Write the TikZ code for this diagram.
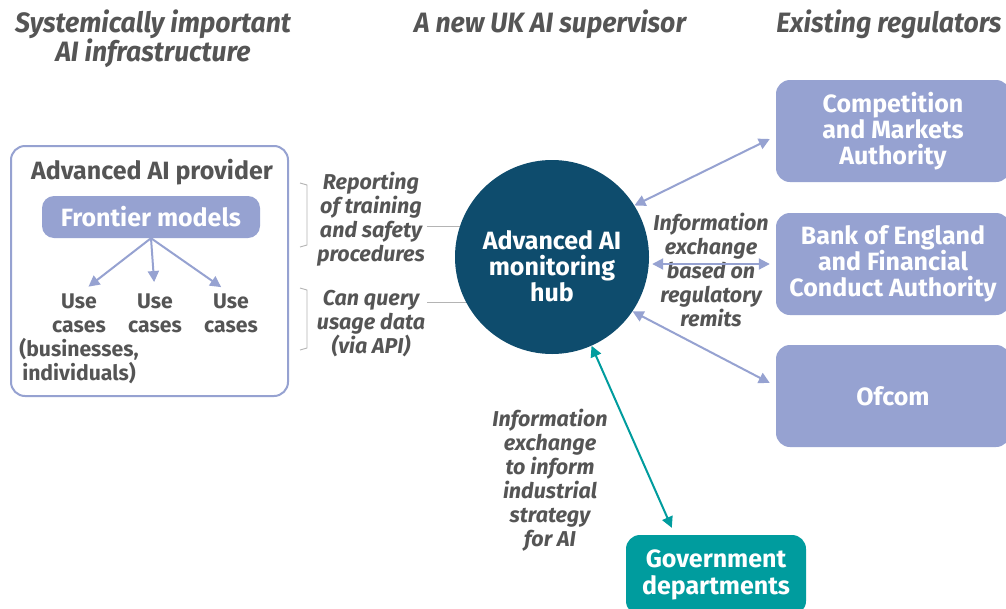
\documentclass[tikz,border=0pt]{standalone}
\usepackage{fontspec}
\setmainfont{Fira Sans}
\newfontfamily\headfont[FakeStretch=0.95]{Fira Sans}
\usetikzlibrary{calc,arrows.meta,backgrounds}
\definecolor{peri}{HTML}{96A2D1}
\definecolor{hubblue}{HTML}{0E4C6D}
\definecolor{govteal}{HTML}{009C9E}
\definecolor{txtgray}{HTML}{555555}
\definecolor{linegray}{HTML}{B4B4B4}
\begin{document}
\begin{tikzpicture}[x=1pt,y=-1pt,
  head/.style={font=\headfont\bfseries\itshape\fontsize{28}{29}\selectfont, text=txtgray, align=center},
  lbl/.style={font=\bfseries\itshape\fontsize{21.5}{24}\selectfont, text=txtgray, align=center, inner sep=2pt},
  usecase/.style={font=\bfseries\fontsize{21.2}{24}\selectfont, text=txtgray, align=center, inner sep=0pt, anchor=north},
  regbox/.style={fill=peri, rounded corners=14pt, text=white, font=\bfseries\fontsize{25}{26}\selectfont,
    align=center, minimum width=234pt, minimum height=102pt, inner sep=0pt},
  arr/.style={draw=peri, line width=2pt, -{Triangle[length=11pt,width=11pt]}},
  dblarr/.style={draw=peri, line width=2pt, {Triangle[length=11pt,width=11pt]}-{Triangle[length=11pt,width=11pt]}},
  tealarr/.style={draw=govteal, line width=2pt, {Triangle[length=11pt,width=11pt]}-{Triangle[length=11pt,width=11pt]}},
  thinline/.style={draw=linegray, line width=0.9pt},
]
\useasboundingbox (0,0) rectangle (1006,608);
\begin{scope}[on background layer]
  \fill[white] (0,0) rectangle (1006,608);
\end{scope}
\clip (0,0) rectangle (1006,608);

% column headings
\node[head] (h1) at (153,39) {Systemically important\\AI infrastructure};
\node[head] (h2) at (550,24) {A new UK AI supervisor};
\node[head] (h3) at (889,24) {Existing regulators};

% provider panel
\node[draw=peri, line width=2pt, rounded corners=14pt, minimum width=277pt, minimum height=250pt] (prov) at (149.5,271) {};
\node[font=\bfseries\fontsize{25}{26}\selectfont, text=txtgray] (provt) at (152,172) {Advanced AI provider};
\node[fill=peri, rounded corners=12pt, minimum width=218pt, minimum height=42pt, text=white,
      font=\bfseries\fontsize{25}{26}\selectfont] (fm) at (151,217) {Frontier models};
\node[usecase] (u1) at (79,294) {Use\\cases\\(businesses,\\individuals)};
\node[usecase] (u2) at (155,294) {Use\\cases};
\node[usecase] (u3) at (231,294) {Use\\cases};
\draw[arr, shorten >=12pt] (fm.south) -- (u1.north);
\draw[arr, shorten >=12pt] (fm.south) -- (u2.north);
\draw[arr, shorten >=12pt] (fm.south) -- (u3.north);

% monitoring hub
\node[circle, fill=hubblue, minimum size=194pt, inner sep=0pt] (hub) at (552,257) {};
\node[text=white, align=center, font=\bfseries\fontsize{25}{26}\selectfont] (hubtext) at (552,266)
  {Advanced AI\\monitoring\\hub};

% reporting channels
\node[lbl] (rep) at (371,219) {Reporting\\of training\\and safety\\procedures};
\node[lbl] (qry) at (371,324) {Can query\\usage data\\(via API)};
\draw[thinline] (300,183) -- (307,185) -- (307,245) -- (300,247);
\draw[thinline] (300,288) -- (307,290) -- (307,348) -- (300,350);
\begin{scope}[on background layer]
  \draw[thinline] ($(rep.east)+(0,7)$) -- ($(rep.east -| hub.center)+(0,7)$);
  \draw[thinline] ($(qry.east)+(0,-22)$) -- ($(qry.east -| hub.center)+(0,-22)$);
\end{scope}

% existing regulators
\node[regbox] (cma) at (893,131) {Competition\\and Markets\\Authority};
\node[regbox] (boe) at (893,264) {Bank of England\\and Financial\\Conduct Authority};
\node[regbox] (ofc) at (893,396) {Ofcom};
\node[lbl] (ix1) at (711,270) {Information\\exchange\\based on\\regulatory\\remits};
\draw[dblarr] (hub.32) -- ($(cma.west)+(-6,8)$);
\draw[dblarr, shorten <=3pt, shorten >=6pt] (hub.east |- boe.west) -- (boe.west);
\draw[dblarr] (hub.-34) -- ($(ofc.west)+(-6,-13)$);

% government
\node[fill=govteal, rounded corners=14pt, minimum width=180pt, minimum height=80pt, text=white, align=center,
      font=\bfseries\fontsize{25}{27}\selectfont] (gov) at (716,575) {Government\\departments};
\node[lbl] (ix2) at (550,480) {Information\\exchange\\to inform\\industrial\\strategy\\for AI};
\draw[tealarr] (hub.-66) -- ($(gov.north west)+(46,-7)$);
\end{tikzpicture}
\end{document}
